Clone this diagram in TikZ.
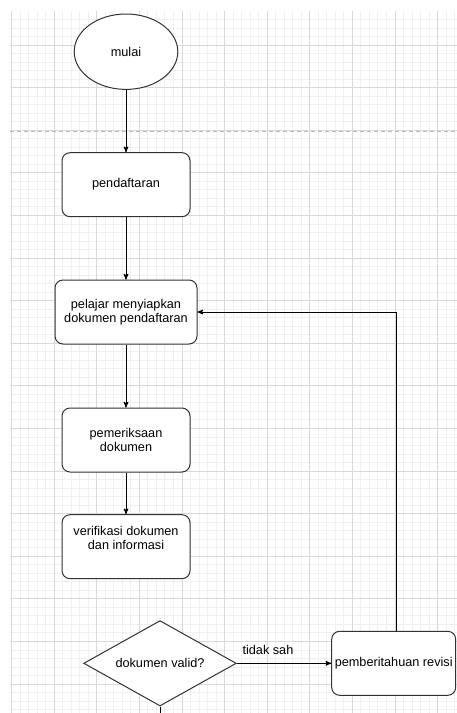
\documentclass[tikz,border=0pt]{standalone}
\usepackage{fontspec}
\setmainfont{Liberation Sans}
\usetikzlibrary{shapes, arrows, positioning}
\tikzstyle{terminal} = [ellipse, draw=black!80, line width=1pt, fill=white, minimum width=103.6pt, minimum height=75.4pt, inner sep=0pt]
\tikzstyle{block} = [rectangle, draw=black!80, line width=1pt, fill=white, minimum width=128pt, minimum height=64pt, rounded corners=8pt, align=center, inner sep=2pt]
\tikzstyle{decision} = [diamond, draw=black!80, line width=1pt, fill=white, aspect=1.8, minimum width=152.6pt, minimum height=85.4pt, inner sep=0pt]
\tikzstyle{line} = [draw, line width=1pt, -stealth']
\tikzstyle{gridminor} = [draw=gray!12, line width=0.8pt]
\tikzstyle{gridmajor} = [draw=gray!30, line width=0.8pt]

\begin{document}
\begin{tikzpicture}[node distance = 128pt, auto, font=\fontsize{12.7}{14.5}\selectfont]
    % Page and grid
    \fill [white] (0,0) rectangle (457pt,-713pt);
    \useasboundingbox (0,0) rectangle (457pt,-713pt);
    \begin{scope}[shift={(11.5pt,-45pt)}]
        \draw [gridminor, step=8.52pt] (-1.5pt,34pt) grid (445.5pt,-668pt);
        \draw [gridmajor, step=42.6pt] (-1.5pt,34pt) grid (445.5pt,-668pt);
    \end{scope}
    \draw [gray!55, line width=1pt, dash pattern=on 4pt off 3pt] (10pt,-131pt) -- (457pt,-131pt);

    % Nodes
    \node [terminal] (start) at (126pt,-51.7pt) {mulai};
    \node [block, below of=start, node distance=133pt] (daftar) {pendaftaran};
    \node [block, below of=daftar, node distance=127.3pt, minimum width=142pt] (siap) {pelajar menyiapkan\\dokumen pendaftaran};
    \node [block, below of=siap] (periksa) {pemeriksaan\\dokumen};
    \node [block, below of=periksa, node distance=106.7pt, text depth=18pt] (verif) {verifikasi dokumen\\dan informasi};
    \node [decision, below of=verif, node distance=116.6pt, xshift=34pt] (valid) {dokumen valid?};
    \node [block, right of=valid, node distance=233.7pt, minimum width=124pt] (revisi) {pemberitahuan revisi};
    \coordinate [below of=valid, node distance=60pt] (lanjut);

    % Lines
    \path [line] (start) -- (daftar);
    \path [line] (daftar) -- (siap);
    \path [line] (siap) -- (periksa);
    \path [line] (periksa) -- (verif);
    \path [line] (valid) -- node[above, pos=0.33, yshift=5pt]{tidak sah} (revisi);
    \path [line] ([xshift=3pt]revisi.north) |- (siap.east);
    \draw [line width=1pt] (valid.south) -- (lanjut);
\end{tikzpicture}
\end{document}
